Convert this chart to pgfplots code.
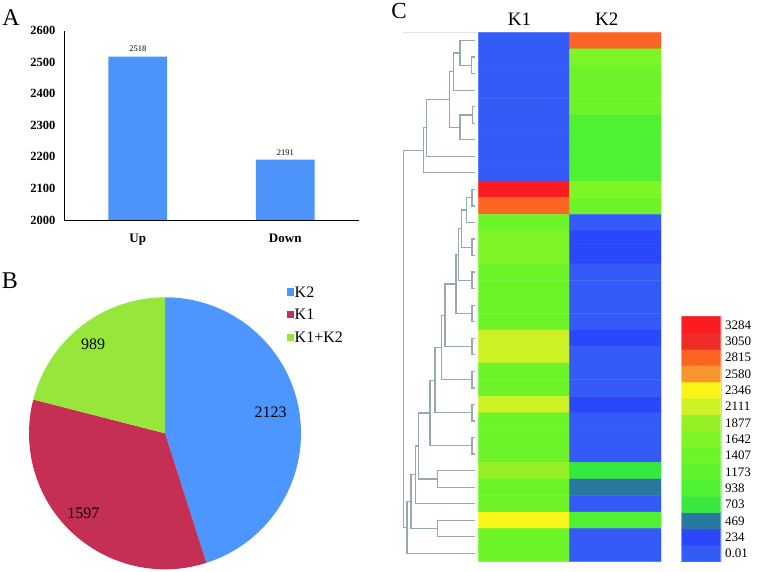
\documentclass[border=0pt]{standalone}
\usepackage{fontspec}
\setmainfont{Liberation Serif}
\usepackage{pgfplots}
\pgfplotsset{compat=1.18}
\usepackage{pgfplotstable}
\definecolor{barblue}{RGB}{76,148,250}
\definecolor{pieblue}{RGB}{77,150,255}
\definecolor{piered}{RGB}{196,47,83}
\definecolor{piegreen}{RGB}{150,230,60}
\definecolor{dendro}{RGB}{150,168,176}
\pgfplotsset{/pgf/number format/1000 sep={}}
\pgfplotscreatecolormap{hm}{
rgb255=(52,90,248) rgb255=(42,72,250) rgb255=(40,120,160) rgb255=(55,232,65)
rgb255=(80,240,50) rgb255=(95,242,45) rgb255=(108,244,40) rgb255=(125,245,38)
rgb255=(150,240,38) rgb255=(205,242,35) rgb255=(250,245,25) rgb255=(248,150,45)
rgb255=(252,100,35) rgb255=(238,45,40) rgb255=(250,28,32)}
% heatmap: row, K1 (x=0), K2 (x=1) expression values
\pgfplotstableread{
x y v
0 1 50
1 1 2950
0 2 50
1 2 1750
0 3 50
1 3 1500
0 4 50
1 4 1500
0 5 50
1 5 1500
0 6 50
1 6 1050
0 7 50
1 7 1050
0 8 50
1 8 1050
0 9 50
1 9 1050
0 10 3400
1 10 1750
0 11 2950
1 11 1500
0 12 1500
1 12 50
0 13 1750
1 13 300
0 14 1750
1 14 300
0 15 1500
1 15 50
0 16 1500
1 16 50
0 17 1500
1 17 50
0 18 1500
1 18 50
0 19 2200
1 19 300
0 20 2200
1 20 50
0 21 1500
1 21 50
0 22 1500
1 22 50
0 23 2200
1 23 300
0 24 1500
1 24 50
0 25 1500
1 25 50
0 26 1500
1 26 50
0 27 2000
1 27 800
0 28 1500
1 28 550
0 29 1500
1 29 50
0 30 2450
1 30 1050
0 31 1500
1 31 50
0 32 1500
1 32 50
}\hmdata
\pgfplotstableread{
x y
0 0
1 0
0 1
1 1
0 2
1 2
0 3
1 3
0 4
1 4
0 5
1 5
0 6
1 6
0 7
1 7
0 8
1 8
0 9
1 9
0 10
1 10
0 11
1 11
0 12
1 12
0 13
1 13
0 14
1 14
}\legdata
\def\vKtwo{2123}
\def\vKone{1597}
\def\vKboth{989}
\pgfmathsetmacro{\tot}{\vKtwo+\vKone+\vKboth}
\pgfmathsetmacro{\aA}{90-360*(\vKtwo/\tot)}
\pgfmathsetmacro{\aB}{\aA-360*(\vKone/\tot)}
\newcommand\dl[5]{\addplot[dendro, line width=1.2pt] coordinates {(#1,#2) (#3,#2) (#3,#5) (#4,#5)};}
\begin{document}
\begin{tikzpicture}
\useasboundingbox (0,0) rectangle (758pt,572pt);
% canvas axis in pixel units
\begin{axis}[at={(0pt,0pt)}, anchor=south west, scale only axis, width=758pt, height=572pt,
  xmin=0, xmax=758, ymin=0, ymax=572, y dir=reverse, hide axis, clip=false]
\addplot[black!10, line width=0.8pt] coordinates {(403,32) (478,32)};
% dendrogram upper cluster
\dl{475}{57.1}{471.7}{475}{73.6}
\dl{475}{40.6}{460}{471.7}{65.4}
\dl{460}{53}{453.3}{475}{90.2}
\dl{475}{106.7}{472.3}{475}{123.3}
\dl{472.3}{115}{460}{475}{139.8}
\dl{453.3}{71.6}{449.3}{460}{127.4}
\dl{449.3}{99.5}{426.7}{475}{156.3}
\dl{426.7}{127.9}{423.3}{475}{172.9}
% lower cluster
\dl{475}{189.4}{472}{475}{206}
\dl{472}{197.7}{466.7}{475}{222.5}
\dl{475}{239}{472}{475}{255.6}
\dl{466.7}{210.1}{461.7}{472}{247.3}
\dl{475}{272.1}{472}{475}{288.7}
\dl{461.7}{228.7}{458.5}{472}{280.4}
\dl{475}{305.2}{472}{475}{321.7}
\dl{458.5}{254.6}{456}{472}{313.5}
\dl{475}{338.3}{472}{475}{354.8}
\dl{456}{284}{445}{472}{346.6}
\dl{475}{371.4}{472}{475}{387.9}
\dl{445}{315.3}{441.7}{472}{379.7}
\dl{475}{404.4}{472}{475}{421}
\dl{441.7}{347.5}{435}{472}{412.7}
\dl{475}{437.5}{472}{475}{454}
\dl{435}{380.1}{430}{472}{445.8}
\dl{475}{470.6}{437.7}{475}{487.1}
\dl{430}{413}{418.3}{437.7}{478.9}
\dl{418.3}{445.9}{415.7}{475}{503.7}
\dl{475}{520.2}{437.7}{475}{536.7}
\dl{415.7}{474.8}{411}{437.7}{528.5}
\dl{411}{501.6}{407}{475}{553.3}
\dl{423.3}{150.4}{403.3}{407}{527.4}
% pie
\fill[pieblue] (axis cs:165,433.3) -- ++(90:136pt) arc[start angle=90, end angle=\aA, radius=136pt] -- cycle;
\fill[piered] (axis cs:165,433.3) -- ++(\aA:136pt) arc[start angle=\aA, end angle=\aB, radius=136pt] -- cycle;
\fill[piegreen] (axis cs:165,433.3) -- ++(\aB:136pt) arc[start angle=\aB, end angle=-270, radius=136pt] -- cycle;
\node[font=\fontsize{16}{16}\selectfont] at (axis cs:270.7,412.3) {2123};
\node[font=\fontsize{16}{16}\selectfont] at (axis cs:83.3,513.3) {1597};
\node[font=\fontsize{16}{16}\selectfont] at (axis cs:93,344) {989};
% pie legend
\fill[pieblue] (axis cs:287.3,288.5) rectangle (axis cs:293.5,295.5);
\fill[piered] (axis cs:287.3,310.5) rectangle (axis cs:293.5,317.5);
\fill[piegreen] (axis cs:287.3,333.5) rectangle (axis cs:293.5,340.5);
\node[anchor=west, inner sep=0pt, font=\fontsize{16}{16}\selectfont] at (axis cs:294.5,292) {K2};
\node[anchor=west, inner sep=0pt, font=\fontsize{16}{16}\selectfont] at (axis cs:294.5,314) {K1};
\node[anchor=west, inner sep=0pt, font=\fontsize{16}{16}\selectfont] at (axis cs:294.5,337) {K1+K2};
% panel letters and column headers
\node[font=\fontsize{24}{24}\selectfont] at (axis cs:11,18) {A};
\node[font=\fontsize{24}{24}\selectfont] at (axis cs:10,281) {B};
\node[font=\fontsize{23}{23}\selectfont] at (axis cs:399,11) {C};
\node[font=\fontsize{19}{19}\selectfont] at (axis cs:519.5,19) {K1};
\node[font=\fontsize{19}{19}\selectfont] at (axis cs:606.7,19) {K2};
\end{axis}
% A: bar chart
\begin{axis}[at={(64pt,352pt)}, anchor=south west, scale only axis, width=295pt, height=189.3pt,
  xmin=-0.5, xmax=1.5, ymin=2000, ymax=2600, ytick={2000,2100,...,2600},
  xtick={0,1}, xticklabels={Up,Down},
  axis x line*=bottom, axis y line*=left, axis line style={-, line width=0.8pt},
  tick style={draw=none},
  /pgf/number format/assume math mode=true,
  yticklabel style={font=\bfseries\fontsize{12.5}{12.5}\selectfont, xshift=-5pt},
  xticklabel style={font=\bfseries\fontsize{13}{13}\selectfont, yshift=-6pt},
  ybar, bar width=58.6pt,
  nodes near coords, every node near coord/.append style={font=\fontsize{8.5}{8.5}\selectfont, yshift=1pt}]
\addplot[fill=barblue, draw=none] coordinates {(0,2518) (1,2191)};
\end{axis}
% C: heatmap
\begin{axis}[at={(478.3pt,10.3pt)}, anchor=south west, scale only axis, width=182.7pt, height=529.4pt,
  xmin=-0.5, xmax=1.5, ymin=0.5, ymax=32.5, y dir=reverse, hide axis,
  colormap name=hm, colormap access=direct]
\addplot[matrix plot*, mesh/cols=2, point meta={floor(\thisrow{v}/234.57)}] table {\hmdata};
\end{axis}
% colour key
\begin{axis}[at={(681.7pt,10.3pt)}, anchor=south west, scale only axis, width=39pt, height=245pt,
  xmin=-0.5, xmax=1.5, ymin=-0.5, ymax=14.5,
  colormap name=hm, colormap access=direct,
  xtick=\empty, ytick={0,...,14},
  yticklabels={0.01,234,469,703,938,1173,1407,1642,1877,2111,2346,2580,2815,3050,3284},
  yticklabel pos=right, tick style={draw=none}, axis line style={gray!35},
  yticklabel style={font=\fontsize{13}{13}\selectfont, anchor=west, xshift=1pt}]
\addplot[matrix plot*, mesh/cols=2, point meta=\thisrow{y}] table {\legdata};
\end{axis}
\end{tikzpicture}
\end{document}
